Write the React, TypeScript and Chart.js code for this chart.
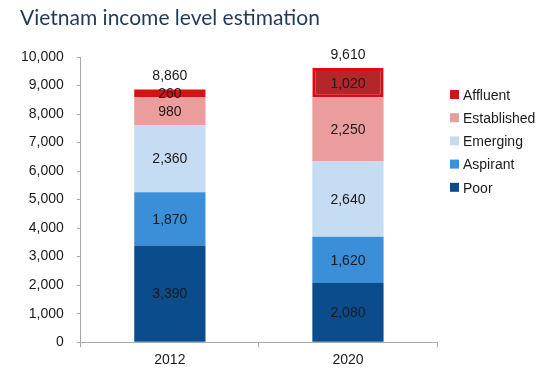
import React, { useEffect, useRef } from "react";
import { Chart, registerables } from "chart.js";

Chart.register(...registerables);

const TITLE = "Vietnam income level estimation";
const categories = ["2012", "2020"];
const seriesNames = ["Poor", "Aspirant", "Emerging", "Established", "Affluent"];
const poor = [3390, 2080];
const aspirant = [1870, 1620];
const emerging = [2360, 2640];
const established = [980, 2250];
const affluent = [260, 1020];
const yTicks = [0, 1000, 2000, 3000, 4000, 5000, 6000, 7000, 8000, 9000, 10000];

const colors = ["#0a4c8c", "#3a8fd8", "#c6dcf2", "#eb9c9c", "#d41313"];

const fmt = (v: number) => v.toLocaleString("en-US");

const labelsPlugin = {
  id: "labelsPlugin",
  afterDatasetsDraw(chart: any) {
    const ctx = chart.ctx;
    ctx.save();
    // title
    ctx.font = "21px Lato, 'Open Sans', sans-serif";
    ctx.fillStyle = "#1d3a5a";
    ctx.textAlign = "left";
    ctx.textBaseline = "middle";
    ctx.fillText(TITLE, 20, 18);

    ctx.font = "14px 'Liberation Sans', Arial, sans-serif";
    ctx.fillStyle = "#1a1a1a";
    ctx.textAlign = "center";
    ctx.textBaseline = "middle";
    const n = chart.data.labels.length;
    const totals: number[] = new Array(n).fill(0);
    const topY: number[] = new Array(n).fill(Infinity);
    chart.data.datasets.forEach((ds: any, di: number) => {
      const meta = chart.getDatasetMeta(di);
      meta.data.forEach((bar: any, i: number) => {
        const v = ds.data[i];
        totals[i] += v;
        const cy = (bar.y + bar.base) / 2;
        ctx.fillText(fmt(v), bar.x, cy + 1);
        topY[i] = Math.min(topY[i], bar.y);
      });
    });
    const meta0 = chart.getDatasetMeta(0);
    meta0.data.forEach((bar: any, i: number) => {
      ctx.fillText(fmt(totals[i]), bar.x, topY[i] - 13);
    });
    // legend
    const lx = 450;
    const ly = 95;
    const step = 23.2;
    const order = [...chart.data.datasets.keys()].reverse();
    order.forEach((di: number, k: number) => {
      const ds = chart.data.datasets[di];
      const y = ly + k * step;
      const c = Array.isArray(ds.backgroundColor) ? ds.backgroundColor[0] : ds.backgroundColor;
      ctx.fillStyle = c;
      ctx.fillRect(lx, y - 5, 9, 9);
      ctx.fillStyle = "#1a1a1a";
      ctx.textAlign = "left";
      ctx.fillText(ds.label, lx + 13, y + 1);
    });
    ctx.restore();
  },
};

export default function App() {
  const ref = useRef<HTMLCanvasElement | null>(null);
  useEffect(() => {
    if (!ref.current) return;
    const values = [poor, aspirant, emerging, established, affluent];
    const chart = new Chart(ref.current, {
      type: "bar",
      data: {
        labels: categories,
        datasets: seriesNames.map((name, i) => {
          if (name === "Affluent") {
            return {
              label: name,
              data: values[i],
              backgroundColor: ["#d41313", "#b3262a"],
              borderColor: ["#d41313", "#e30613"],
              borderWidth: [0, 3],
              borderSkipped: false,
              barPercentage: 0.4,
              categoryPercentage: 1,
            } as any;
          }
          return {
            label: name,
            data: values[i],
            backgroundColor: colors[i],
            borderWidth: 0,
            barPercentage: 0.4,
            categoryPercentage: 1,
          } as any;
        }),
      },
      options: {
        animation: false,
        responsive: false,
        maintainAspectRatio: false,
        layout: { padding: { left: 8, right: 117, top: 57, bottom: 2 } },
        plugins: {
          legend: { display: false },
          tooltip: { enabled: false },
          title: { display: false },
        },
        scales: {
          x: {
            stacked: true,
            grid: { offset: true, drawOnChartArea: false, tickLength: 5, color: "#aaaaaa" },
            border: { color: "#aaaaaa" },
            ticks: { color: "#1a1a1a", font: { family: "'Liberation Sans', Arial", size: 14 }, padding: 5 },
          },
          y: {
            stacked: true,
            min: 0,
            max: 10000,
            afterBuildTicks: (axis: any) => {
              axis.ticks = yTicks.map((v) => ({ value: v }));
            },
            grid: { drawOnChartArea: false, tickLength: 4, color: "#aaaaaa" },
            border: { color: "#aaaaaa" },
            ticks: {
              color: "#1a1a1a",
              font: { family: "'Liberation Sans', Arial", size: 14 },
              padding: 13,
              callback: (v: any) => fmt(Number(v)),
            },
          },
        },
      },
      plugins: [labelsPlugin],
    });
    return () => chart.destroy();
  }, []);
  return (
    <div style={{ position: "fixed", left: 0, top: 0, width: 554, height: 376, background: "#fff" }}>
      <canvas ref={ref} width={554} height={376} style={{ width: 554, height: 376 }} />
    </div>
  );
}
